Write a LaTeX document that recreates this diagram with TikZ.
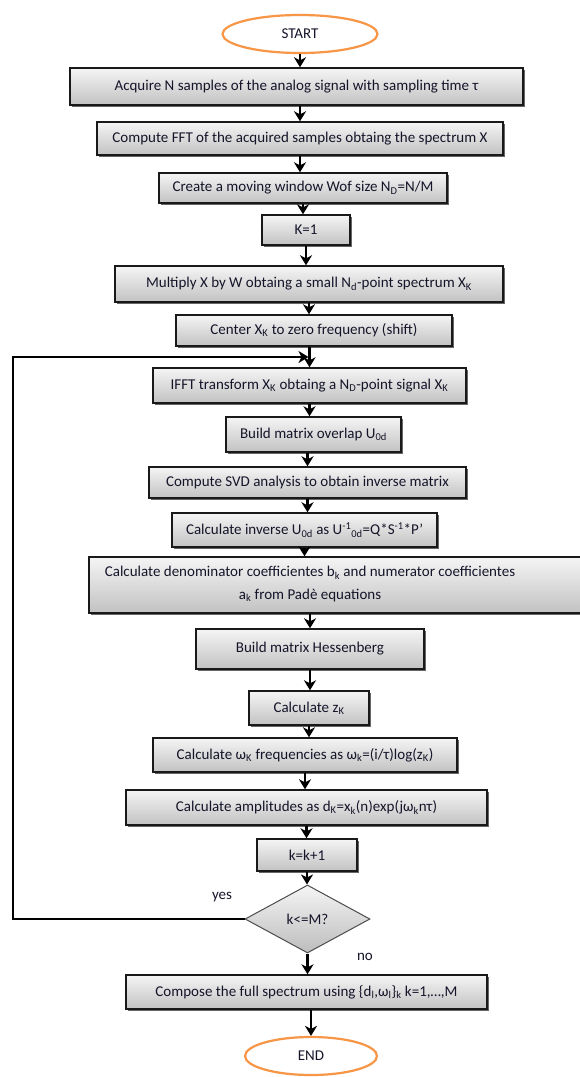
\documentclass[tikz,border=0pt]{standalone}
\usepackage{fontspec}
\setmainfont{Carlito}
\usetikzlibrary{shapes.geometric,arrows.meta,shadows,calc}
\definecolor{ellorange}{HTML}{F79646}
\definecolor{txtcol}{HTML}{15152A}
\begin{document}
\begin{tikzpicture}[x=1pt,y=-1pt,
  every node/.style={text=txtcol, font=\fontsize{15}{22.5}\selectfont},
  box/.style={rectangle, draw=black!90, line width=1.4pt, top color=black!4, bottom color=black!24,
    drop shadow={shadow xshift=2.2pt, shadow yshift=-2.2pt, fill=black!70, opacity=0.85},
    inner sep=0pt, align=center},
  term/.style={ellipse, draw=ellorange, line width=2.2pt, fill=white, inner sep=0pt},
  decision/.style={diamond, draw=black!70, line width=1pt, top color=black!4, bottom color=black!26, inner sep=0pt},
  arr/.style={-{Stealth[length=10pt,width=12pt,inset=3pt]}, line width=2.8pt},
  lbl/.style={inner sep=0pt}
]
\useasboundingbox (0,0) rectangle (579,1077);
\fill[white] (0,0) rectangle (579,1077);

\node[term, minimum width=155pt, minimum height=38pt] (start) at (300,34) {START};
\node[box, minimum width=453pt, minimum height=37pt] (b1) at (296.5,86.5) {Acquire N samples of the analog signal with sampling time τ};
\node[box, minimum width=406pt, minimum height=33pt] (b2) at (300,138.5) {Compute FFT of the acquired samples obtaing the spectrum X};
\node[box, minimum width=288pt, minimum height=30pt] (b3) at (303,188) {Create a moving window Wof size N\textsubscript{D}=N/M};
\node[box, minimum width=88pt, minimum height=30pt] (k1) at (306,230) {K=1};
\node[box, minimum width=388pt, minimum height=36pt] (b5) at (309,284) {Multiply X by W obtaing a small N\textsubscript{d}-point spectrum X\textsubscript{K}};
\node[box, minimum width=276pt, minimum height=31pt] (b6) at (314,330.5) {Center X\textsubscript{K} to zero frequency (shift)};
\node[box, minimum width=313pt, minimum height=35pt] (b7) at (309.5,385.5) {IFFT transform X\textsubscript{K} obtaing a N\textsubscript{D}-point signal X\textsubscript{K}};
\node[box, minimum width=175pt, minimum height=35pt] (b8) at (313.5,434.5) {Build matrix overlap U\textsubscript{0d}};
\node[box, minimum width=317pt, minimum height=31pt] (b9) at (307.5,482.5) {Compute SVD analysis to obtain inverse matrix};
\node[box, minimum width=265pt, minimum height=34pt] (b10) at (304.5,530) {Calculate inverse U\textsubscript{0d} as U\textsuperscript{-1}\textsubscript{0d}=Q*S\textsuperscript{-1}*P'};
\node[box, minimum width=511pt, minimum height=56pt,
  label={[align=center, inner sep=0pt, xshift=-34.5pt, yshift=1pt]center:Calculate denominator coefficientes b\textsubscript{k} and numerator coefficientes\\a\textsubscript{k} from Padè equations}] (b11) at (344.5,585) {};
\node[box, minimum width=228pt, minimum height=40pt] (b12) at (310,649) {Build matrix Hessenberg};
\node[box, minimum width=120pt, minimum height=34pt] (b13) at (309,708) {Calculate z\textsubscript{K}};
\node[box, minimum width=304pt, minimum height=34pt] (b14) at (305,755) {Calculate ω\textsubscript{K} frequencies as ω\textsubscript{k}=(i/τ)log(z\textsubscript{K})};
\node[box, minimum width=361pt, minimum height=35pt] (b15) at (306.5,807.5) {Calculate amplitudes as d\textsubscript{K}=x\textsubscript{k}(n)exp(jω\textsubscript{k}nτ)};
\node[box, minimum width=100pt, minimum height=32pt] (b16) at (307,855) {k=k+1};
\node[decision, minimum width=125pt, minimum height=68pt] (dia) at (307.5,919) {k<=M?};
\node[box, minimum width=361pt, minimum height=34pt] (b17) at (306.5,992) {Compose the full spectrum using \{d\textsubscript{l},ω\textsubscript{l}\}\textsubscript{k} k=1,\ldots,M};
\node[term, minimum width=132pt, minimum height=38pt] (end) at (311,1056) {END};

\node[lbl] (yes) at (222,897) {yes};
\node[lbl] (no) at (365,957) {no};

\coordinate (lx) at (13,919);
\coordinate (j) at ($(b6.south -| b7.north)!0.5!(b7.north)$);

\draw[arr] (start.south) -- (start.south |- b1.north);
\draw[arr] (b2.north |- b1.south) -- (b2.north);
\draw[arr] (b2.south) -- (b2.south |- b3.north);
\draw[arr] (b3.south) -- (b3.south |- k1.north);
\draw[arr] (k1.south) -- (k1.south |- b5.north);
\draw[arr] (b5.south) -- (b5.south |- b6.north);
\draw[arr] (b7.north |- b6.south) -- (b7.north);
\draw[arr] (b7.south) -- (b7.south |- b8.north);
\draw[arr] (b9.north |- b8.south) -- (b9.north);
\draw[arr] (b9.south) -- (b9.south |- b10.north);
\draw[arr] (b10.south) -- (b10.south |- b11.north);
\draw[arr] (b12.north |- b11.south) -- (b12.north);
\draw[arr] (b12.south) -- (b12.south |- b13.north);
\draw[arr] (b13.south) -- (b13.south |- b14.north);
\draw[arr] (b14.south) -- (b14.south |- b15.north);
\draw[arr] (b15.south) -- (b15.south |- b16.north);
\draw[arr] (b16.south) -- (b16.south |- dia.north);
\draw[arr] (dia.south) -- (dia.south |- b17.north);
\draw[arr] (end.north |- b17.south) -- (end.north);
\draw[arr, line width=2.6pt, shorten >=1pt] (dia.west) -- (dia.west -| lx) |- (j);
\end{tikzpicture}
\end{document}
